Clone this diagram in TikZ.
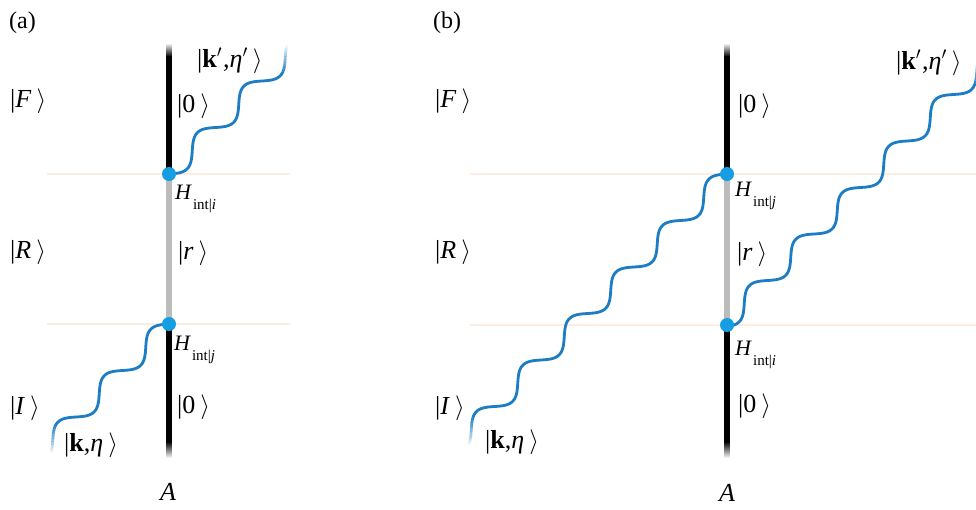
\documentclass[tikz,border=0pt]{standalone}
\usepackage{fontspec}
\setmainfont{Liberation Serif}
\definecolor{wavec}{RGB}{28,124,196}
\definecolor{dotc}{RGB}{22,158,226}
\definecolor{peachc}{RGB}{253,236,225}
\definecolor{grayl}{RGB}{188,188,188}
\newcommand\ketk[1]{|#1\kern5pt$\rangle$}
\newcommand\hint[1]{\textit{H}\kern1pt\raisebox{-10pt}{\fontsize{15}{15}\selectfont int|\textit{#1}}}
\def\wa{6.5}
\def\wk{7.7419}
\newcommand\wavecurve[5]{%
  \pgfmathsetmacro\wfade{#5-15}%
  \draw[wavel] plot[domain=0:\wfade, samples=400, variable=\s]
    ({#1+#3*(\s+\wa*sin(\wk*\s))},{#2+#4*(\s-\wa*sin(\wk*\s))});
  \foreach \i in {0,...,9}{%
    \pgfmathsetmacro\sA{\wfade+1.5*\i}%
    \pgfmathsetmacro\sB{\sA+1.6}%
    \pgfmathsetmacro\wop{1-(\i+1)/11}%
    \draw[wavel, draw opacity=\wop] plot[domain=\sA:\sB, samples=6, variable=\s]
      ({#1+#3*(\s+\wa*sin(\wk*\s))},{#2+#4*(\s-\wa*sin(\wk*\s))});
  }%
}
\begin{document}
\begin{tikzpicture}[x=1pt,y=-1pt,
  ket/.style={font=\fontsize{26}{30}\selectfont, inner sep=0pt, anchor=base west},
  plab/.style={font=\fontsize{24}{28}\selectfont, inner sep=0pt, anchor=base west},
  hlab/.style={font=\fontsize{22}{26}\selectfont, inner sep=0pt, anchor=base west},
  alab/.style={font=\fontsize{26}{30}\selectfont, inner sep=0pt, anchor=base},
  peachline/.style={draw=peachc, line width=1.3pt},
  blkline/.style={draw=black, line width=5.5pt},
  grayline/.style={draw=grayl, line width=5.5pt},
  wavel/.style={draw=wavec, line width=2.8pt},
  dotn/.style={circle, fill=dotc, inner sep=0pt, minimum size=14pt}]
\useasboundingbox (0,0) rectangle (976,509);
\fill[white] (0,0) rectangle (976,509);

% ---------- panel (a) ----------
\coordinate (aL1) at (47,174);  \coordinate (aR1) at (290,174);
\coordinate (aL2) at (47,324);  \coordinate (aR2) at (290,324);
\draw[peachline] (aL1) -- (aR1);
\draw[peachline] (aL2) -- (aR2);
\coordinate (aTop) at (169,56);
\coordinate (aBot) at (169,442);
\coordinate (aV1) at (169,174);
\coordinate (aV2) at (169,324);
\shade[top color=white, bottom color=black] (166.25,43) rectangle (171.75,56.5);
\shade[top color=black, bottom color=white] (166.25,441.5) rectangle (171.75,458);
\draw[blkline] (aTop) -- (aV1);
\draw[grayline] (aV1) -- (aV2);
\draw[blkline] (aV2) -- (aBot);
\wavecurve{169}{174}{1}{-1}{123}
\wavecurve{169}{324}{-1}{1}{123}
\node[dotn] (ad1) at (aV1) {};
\node[dotn] (ad2) at (aV2) {};

\node[plab] (alab) at (9,28) {(a)};
\node[ket] (aF) at (10,107) {\ketk{\textit{F}}};
\node[ket] (aR) at (10,258) {\ketk{\textit{R}}};
\node[ket] (aI) at (10,414) {\ketk{\textit{I}}};
\node[ket] (a0t) at (177,112) {\ketk{0}};
\node[ket] (akp) at (197,67) {|\textbf{k}$'$\kern1pt,\textit{η}$'$\kern5pt$\rangle$};
\node[hlab] (aHi) at (175,199) {\hint{i}};
\node[ket] (ar) at (178,259) {\ketk{\textit{r}}};
\node[hlab] (aHj) at (174,350) {\hint{j}};
\node[ket] (a0b) at (177,413) {\ketk{0}};
\node[ket] (ak) at (64,451) {|\textbf{k},\textit{η}\kern5pt$\rangle$};
\node[alab] (aA) at (168,500) {\textit{A}};

% ---------- panel (b) ----------
\coordinate (bL1) at (470,174);  \coordinate (bR1) at (976,174);
\coordinate (bL2) at (470,325);  \coordinate (bR2) at (976,325);
\draw[peachline] (bL1) -- (bR1);
\draw[peachline] (bL2) -- (bR2);
\coordinate (bTop) at (727,56);
\coordinate (bBot) at (727,442);
\coordinate (bV1) at (727,174);
\coordinate (bV2) at (727,325);
\shade[top color=white, bottom color=black] (724.25,43) rectangle (729.75,56.5);
\shade[top color=black, bottom color=white] (724.25,441.5) rectangle (729.75,458);
\draw[blkline] (bTop) -- (bV1);
\draw[grayline] (bV1) -- (bV2);
\draw[blkline] (bV2) -- (bBot);
\wavecurve{727}{174}{-1}{1}{264}
\wavecurve{721}{327}{1}{-1}{264}
\node[dotn] (bd1) at (bV1) {};
\node[dotn] (bd2) at (bV2) {};

\node[plab] (blab) at (433,28) {(b)};
\node[ket] (bF) at (435,107) {\ketk{\textit{F}}};
\node[ket] (bR) at (435,258) {\ketk{\textit{R}}};
\node[ket] (bI) at (435,414) {\ketk{\textit{I}}};
\node[ket] (b0t) at (738,112) {\ketk{0}};
\node[ket] (bkp) at (896,69) {|\textbf{k}$'$\kern1pt,\textit{η}$'$\kern5pt$\rangle$};
\node[hlab] (bHj) at (735,196) {\hint{j}};
\node[ket] (br) at (737,260) {\ketk{\textit{r}}};
\node[hlab] (bHi) at (735,355) {\hint{i}};
\node[ket] (b0b) at (738,412) {\ketk{0}};
\node[ket] (bk) at (485,448) {|\textbf{k},\textit{η}\kern5pt$\rangle$};
\node[alab] (bA) at (727,501) {\textit{A}};
\end{tikzpicture}
\end{document}
